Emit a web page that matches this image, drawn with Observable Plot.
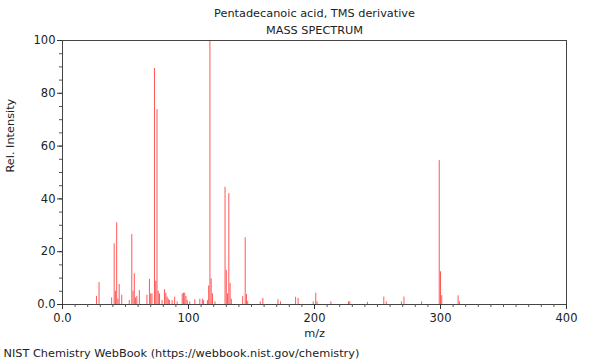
<!DOCTYPE html>
<html>
<head>
<meta charset="utf-8">
<script src="https://cdn.jsdelivr.net/npm/d3@7"></script>
<script src="https://cdn.jsdelivr.net/npm/@observablehq/plot@0.6"></script>
<style>
  html, body { margin: 0; padding: 0; background: #fff; }
  #chart svg { display: block; }
</style>
</head>
<body>
<div id="chart"></div>
<script>
const title = "Pentadecanoic acid, TMS derivative";
const subtitle = "MASS SPECTRUM";
const caption = "NIST Chemistry WebBook (https://webbook.nist.gov/chemistry)";
const xLabel = "m/z";
const yLabel = "Rel. Intensity";

const mz = [27, 29, 39, 41, 42, 43, 44, 45, 47, 53, 55, 56, 57, 58, 59, 61, 67, 69, 70, 71,
  73, 74, 75, 76, 77, 79, 81, 82, 83, 84, 85, 87, 89, 91, 95, 96, 97, 98, 99, 101,
  105, 109, 111, 112, 115, 116, 117, 118, 119, 121, 129, 130, 131, 132, 133, 134,
  143, 145, 146, 147, 157, 159, 171, 173, 185, 187, 199, 201, 202, 213, 227, 228,
  242, 255, 257, 269, 271, 285, 299, 300, 301, 314, 315];
const intensity = [3, 8.3, 2.5, 23, 5, 31, 2, 7.6, 3.5, 1.5, 26.5, 5, 11.6, 2.5, 3, 5.3, 3.5, 9.5, 4, 4,
  89.4, 8.8, 73.8, 5, 4, 1.5, 5.6, 4.3, 2.8, 2, 1.5, 1.5, 2.8, 1, 4, 4.3, 4.3, 3, 1.5, 1,
  1.8, 2, 2, 1.5, 1.5, 7, 100, 9.7, 4, 1, 44.4, 13, 4, 42, 8, 2,
  3, 25.3, 3.8, 1.2, 1, 2.3, 1.8, 1, 2.7, 2.3, 1, 4.3, 1, 1, 1, 1,
  0.8, 2.8, 1, 1, 2.8, 1, 54.5, 12.4, 3.3, 3.3, 1];

const xMajor = [0, 100, 200, 300, 400];
const xMinor = d3.range(0, 401, 10);
const yMajor = [0, 20, 40, 60, 80, 100];
const yMinor = d3.range(0, 101, 5);
const fmt = d => d === 0 ? "0.0" : String(d);

const peaks = mz.map((m, i) => ({mz: m, intensity: intensity[i]}));

const chart = Plot.plot({
  width: 600,
  height: 360,
  marginLeft: 62,
  marginRight: 34,
  marginTop: 40,
  marginBottom: 56,
  style: {fontFamily: "DejaVu Sans, sans-serif", fontSize: "11px", color: "#222", background: "#fff"},
  x: {domain: [0, 400]},
  y: {domain: [0, 100]},
  marks: [
    Plot.ruleX(peaks, {x: "mz", y1: 0, y2: "intensity", stroke: "#ff2020", strokeOpacity: 0.75, strokeWidth: 1}),
    Plot.frame({stroke: "#444"}),
    Plot.axisX({ticks: xMinor, tickSize: 3, text: null, label: null, stroke: "#555"}),
    Plot.axisX({ticks: xMajor, tickSize: 5, tickPadding: 4, tickFormat: fmt, label: null, fontSize: 11.5, stroke: "#333"}),
    Plot.axisY({ticks: yMinor, tickSize: 3, text: null, label: null, stroke: "#555"}),
    Plot.axisY({ticks: yMajor, tickSize: 5, tickPadding: 2, tickFormat: fmt, label: null, fontSize: 11.5, stroke: "#333"}),
    Plot.text([xLabel], {frameAnchor: "bottom", lineAnchor: "middle", dy: 29, fontSize: 11.3}),
    Plot.text([yLabel], {frameAnchor: "left", lineAnchor: "middle", dx: -52, rotate: -90, fontSize: 11.3}),
    Plot.text([title], {frameAnchor: "top", lineAnchor: "middle", dy: -27, fontSize: 11.3}),
    Plot.text([subtitle], {frameAnchor: "top", lineAnchor: "middle", dy: -10, fontSize: 11.3}),
    Plot.text([caption], {frameAnchor: "bottom-left", lineAnchor: "middle", dx: -59, dy: 49, textAnchor: "start", fontSize: 11.3})
  ]
});
document.getElementById("chart").append(chart);
</script>
</body>
</html>
